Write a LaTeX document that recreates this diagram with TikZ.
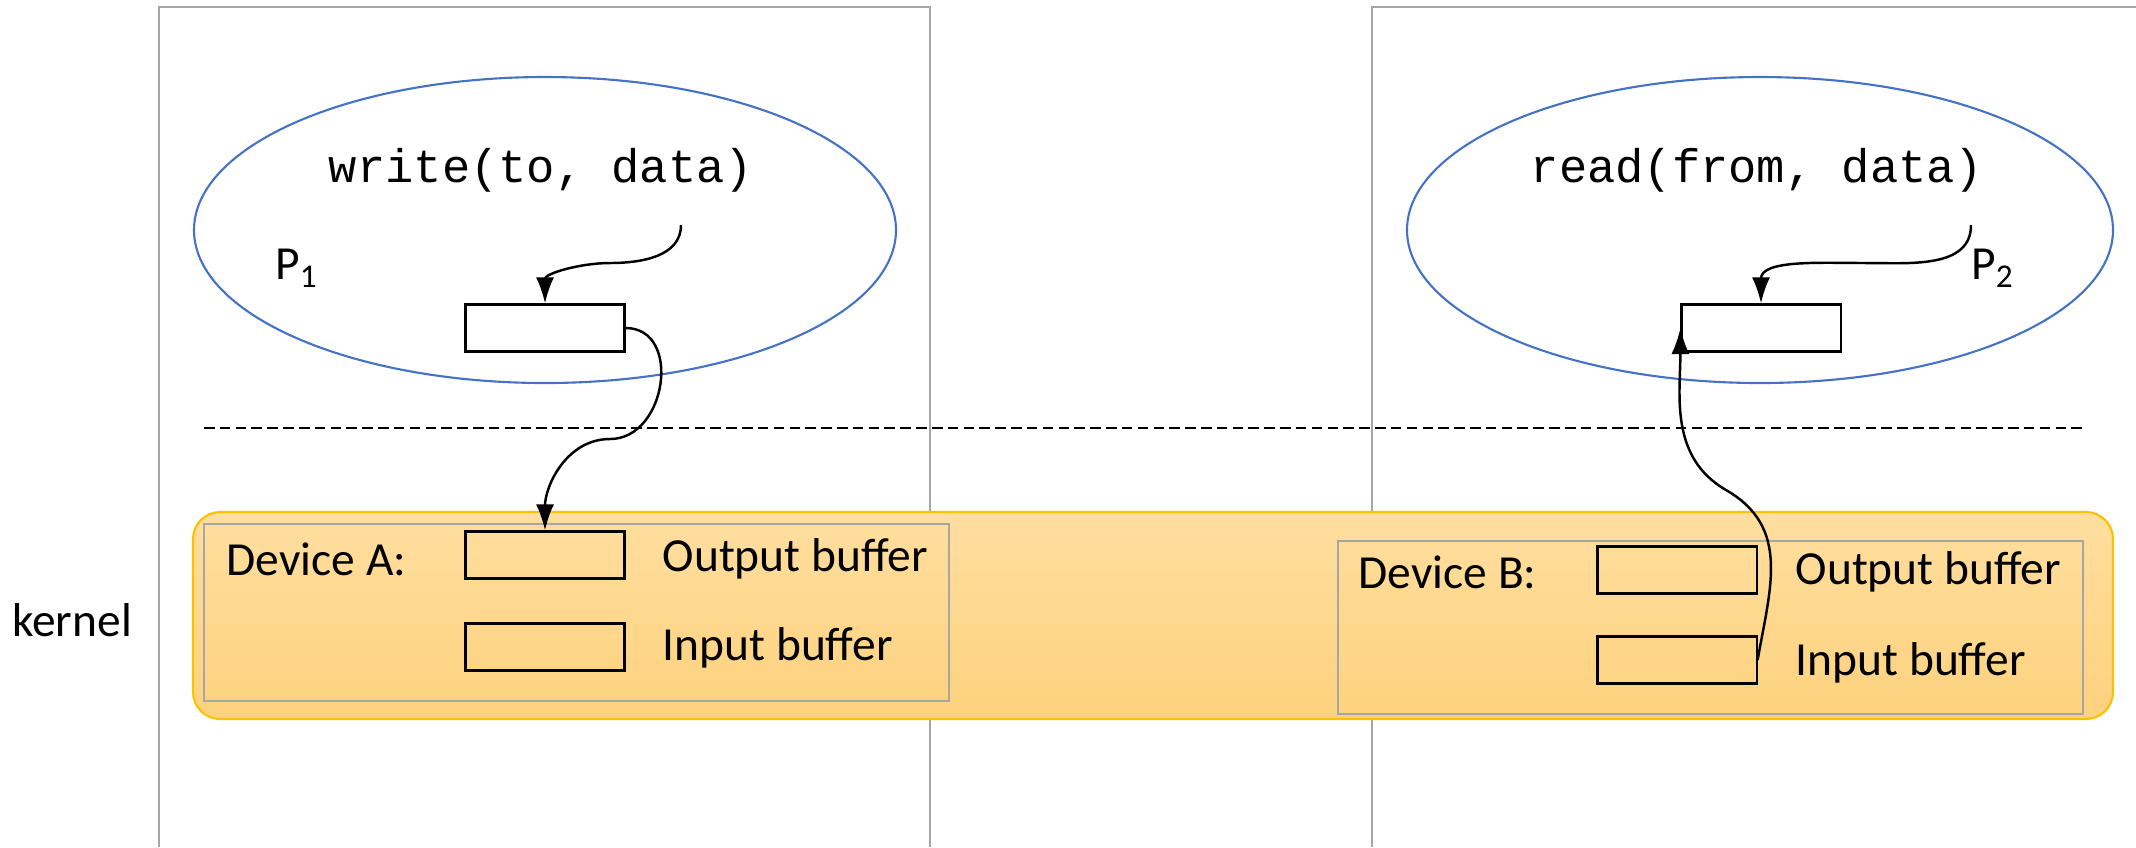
\documentclass[tikz,border=0pt]{standalone}
\usepackage{fontspec}
\setmainfont{Carlito}
\newfontfamily\codefont{Liberation Mono}
\usepackage{xcolor}
\usetikzlibrary{arrows.meta}

\definecolor{procblue}{HTML}{4472C4}
\definecolor{kgold}{HTML}{FFC000}
\definecolor{ktop}{HTML}{FFDE9F}
\definecolor{kbot}{HTML}{FDD27E}
\definecolor{framegray}{HTML}{A6A6A6}

\tikzset{
  buf/.style={draw, line width=0.6pt, minimum width=1.59cm, minimum height=0.47cm, inner sep=0pt},
  lbl/.style={inner sep=0pt, font=\fontsize{13.5}{16}\selectfont},
  code/.style={inner sep=0pt, font=\codefont\fontsize{13.4}{16}\selectfont},
  flow/.style={line width=0.7pt, -{Latex[length=2.6mm,width=1.8mm]}},
  frame/.style={draw=framegray, line width=0.5pt}
}

\begin{document}
\begin{tikzpicture}[x=0.01cm, y=-0.01cm]
    \useasboundingbox (0,0) rectangle (2136,847);
    % Process columns
    \draw[frame] (159,847) -- (159,7) -- (930,7) -- (930,847);
    \draw[frame] (1372,847) -- (1372,7) -- (2136,7);
    % Processes
    \draw[procblue, line width=0.6pt] (545,230) ellipse (351 and 153);
    \draw[procblue, line width=0.6pt] (1760,230) ellipse (353 and 153);
    \node[code] (wr) at (541,170) {write(to, data)};
    \node[code] (rd) at (1757,170) {read(from, data)};
    \node[lbl] (p1) at (297,268) {P\textsubscript{1}};
    \node[lbl] (p2) at (1993,268) {P\textsubscript{2}};
    \node[buf] (bufP1) at (545,328) {};
    \node[buf] (bufP2) at (1761,328) {};
    % User / kernel boundary
    \draw[line width=0.6pt, dash pattern=on 3pt off 1.5pt] (204,428) -- (2084,428);
    % Kernel
    \path[draw=kgold, line width=0.6pt, top color=ktop, bottom color=kbot, rounded corners=0.27cm]
      (193,512) rectangle (2113,719);
    \node[lbl] (kern) at (72,620) {kernel};
    % Device A
    \draw[frame, line width=0.7pt] (204,524) rectangle (949,701);
    \node[lbl, anchor=west] (devA) at (226,559) {Device A:};
    \node[buf] (outA) at (545,555) {};
    \node[buf] (inA) at (545,647) {};
    \node[lbl, anchor=west] (outAl) at (662,559) {Output buffer};
    \node[lbl, anchor=west] (inAl) at (662,648) {Input buffer};
    % Device B
    \draw[frame, line width=0.7pt] (1338,541) rectangle (2083,714);
    \node[lbl, anchor=west] (devB) at (1358,572) {Device B:};
    \node[buf] (outB) at (1677,570) {};
    \node[buf] (inB) at (1677,660) {};
    \node[lbl, anchor=west] (outBl) at (1795,572) {Output buffer};
    \node[lbl, anchor=west] (inBl) at (1795,663) {Input buffer};
    % Data flow
    \coordinate (wcall) at (681,225);
    \coordinate (wbend) at (610,263);
    \coordinate (rcall) at (1971,225);
    \coordinate (rbend) at (1866,263);
    \coordinate (abend) at (610,439);
    \coordinate (bbend) at (1726,490);
    \draw[flow] (wcall) to[out=-90,in=0] (wbend) to[out=180,in=90] (bufP1.north);
    \draw[flow] (rcall) to[out=-90,in=0] (rbend) to[out=180,in=90] (bufP2.north);
    \draw[flow] (bufP1.east) to[out=0,in=0,looseness=1.3] (abend) to[out=180,in=90] (outA.north);
    \draw[flow] (inB.east) to[out=80,in=-30,looseness=1.1] (bbend) to[out=150,in=-90] (bufP2.west);
\end{tikzpicture}
\end{document}
